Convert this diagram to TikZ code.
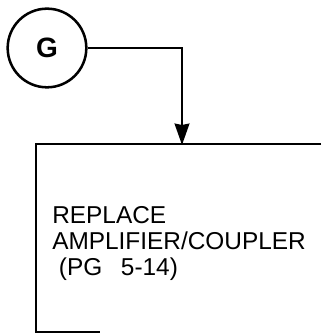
\documentclass[tikz,border=0pt]{standalone}
\usepackage{fontspec}
\setmainfont{Liberation Sans}
\usetikzlibrary{positioning,arrows.meta}

\begin{document}
\begin{tikzpicture}[x=0.75pt,y=-0.75pt,
    every node/.style={inner sep=0pt},
    stepline/.style={line width=1.9pt},
    flowarrow/.style={-{Stealth[length=16pt,width=11pt,inset=1pt]}, line width=1.9pt}]
  \useasboundingbox (0,0) rectangle (321,334);
  % connector circle
  \node[draw, circle, stepline, minimum size=59pt, font=\fontsize{21}{22}\selectfont\bfseries]
    (g) at (47,48) {G};
  % box, open to the right and below
  \coordinate (boxtl) at (36,144);
  \coordinate (boxtr) at (321,144);
  \coordinate (boxbl) at (36,332);
  \coordinate (boxbr) at (100,332);
  \coordinate (boxin) at (182,145);
  \draw[stepline] (boxtr) -- (boxtl) -- (boxbl) -- (boxbr);
  \node[anchor=base west, align=left, font=\fontsize{18.3}{19.5}\selectfont]
    (txt) at (52,275) {REPLACE\\AMPLIFIER/COUPLER\\\hspace{5pt}(PG\hspace{14pt}5-14)};
  \draw[flowarrow] (g) -| (boxin);
\end{tikzpicture}
\end{document}
